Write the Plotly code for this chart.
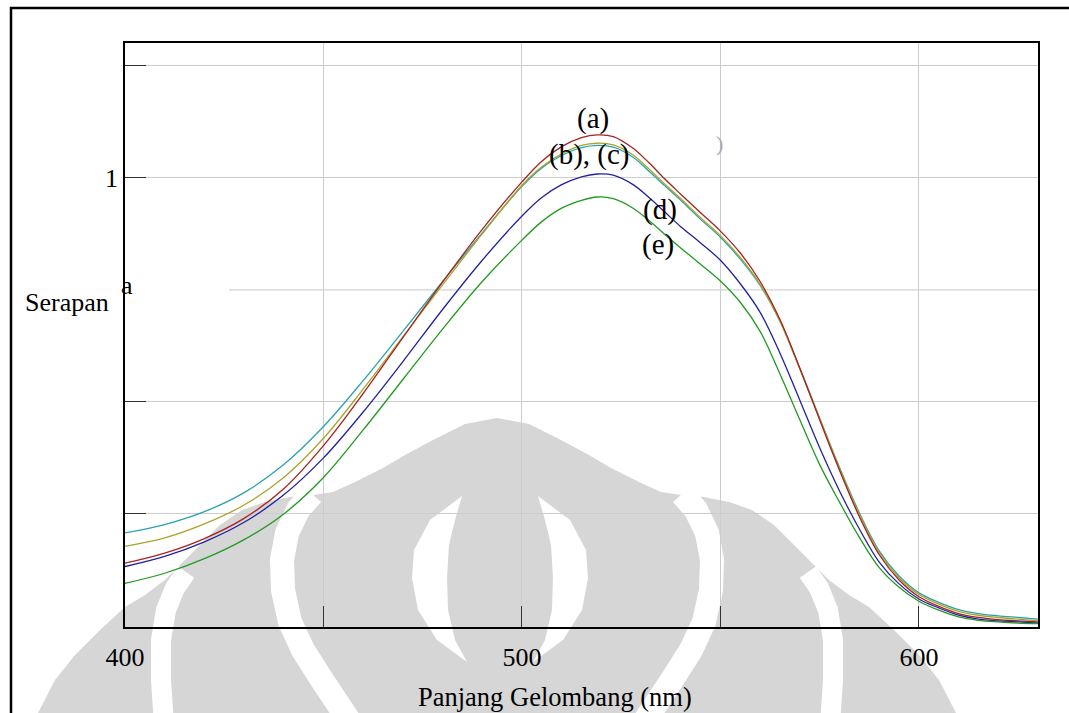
import plotly.graph_objects as go

# ---------------- data ----------------
wavelength_nm = [400, 410, 420, 430, 440, 450, 460, 470, 480, 490, 500,
                 505, 510, 515, 519, 523,
                 528, 532, 536, 540, 545, 550, 555,
                 560, 565, 570, 575, 580, 585, 590, 595, 600, 605, 610, 615, 620, 625, 630]

serapan_a = [0.312, 0.330, 0.356, 0.392, 0.445, 0.522, 0.615, 0.715, 0.814, 0.908, 0.993,
             1.030, 1.056, 1.072, 1.077, 1.074,
             1.053, 1.027, 0.998, 0.971, 0.938, 0.905, 0.866,
             0.815, 0.747, 0.660, 0.568, 0.478, 0.395, 0.327, 0.282, 0.252, 0.235, 0.222, 0.215, 0.211, 0.209, 0.207]
serapan_b = [0.342, 0.357, 0.382, 0.416, 0.465, 0.535, 0.623, 0.716, 0.809, 0.900, 0.987,
             1.020, 1.043, 1.058, 1.062, 1.059,
             1.041, 1.016, 0.989, 0.963, 0.929, 0.897, 0.858,
             0.810, 0.744, 0.659, 0.570, 0.481, 0.399, 0.331, 0.286, 0.256, 0.239, 0.226, 0.219, 0.215, 0.212, 0.209]
serapan_c = [0.366, 0.381, 0.404, 0.438, 0.488, 0.556, 0.638, 0.726, 0.815, 0.902, 0.985,
             1.018, 1.040, 1.054, 1.058, 1.055,
             1.037, 1.012, 0.986, 0.960, 0.926, 0.894, 0.855,
             0.808, 0.744, 0.660, 0.571, 0.483, 0.402, 0.334, 0.289, 0.259, 0.242, 0.229, 0.222, 0.218, 0.215, 0.212]
serapan_d = [0.306, 0.324, 0.350, 0.385, 0.434, 0.500, 0.582, 0.672, 0.765, 0.853, 0.932,
             0.965, 0.988, 1.002, 1.007, 1.005,
             0.988, 0.965, 0.939, 0.913, 0.884, 0.853, 0.811,
             0.760, 0.687, 0.603, 0.518, 0.441, 0.373, 0.314, 0.275, 0.248, 0.232, 0.219, 0.212, 0.209, 0.207, 0.205]
serapan_e = [0.276, 0.294, 0.320, 0.354, 0.400, 0.465, 0.550, 0.640, 0.730, 0.815, 0.889,
             0.922, 0.946, 0.960, 0.966, 0.963,
             0.946, 0.924, 0.899, 0.875, 0.846, 0.816, 0.778,
             0.726, 0.650, 0.568, 0.488, 0.421, 0.358, 0.304, 0.269, 0.244, 0.228, 0.216, 0.210, 0.207, 0.205, 0.204]

series = [
    ("(c)", serapan_c, "#2aa3ab"),
    ("(b)", serapan_b, "#aba42c"),
    ("(a)", serapan_a, "#a82222"),
    ("(d)", serapan_d, "#22229e"),
    ("(e)", serapan_e, "#229a22"),
]

x_tick_vals = [400, 450, 500, 550, 600]
x_tick_text = ["400", "", "500", "", "600"]
y_tick_vals = [0.4, 0.6, 1.0, 1.2]
y_tick_text = ["", "", "1", ""]

FONT = "Liberation Serif, Times New Roman, serif"
W, H = 1069, 713
ML, MR, MT, MB = 125, 31, 43, 86
PW, PH = W - ML - MR, H - MT - MB


def px(xp):
    return (xp - ML) / PW


def py(yp):
    return (H - MB - yp) / PH


def path_from(points, close=False):
    s = "M " + " L ".join(f"{px(a):.5f},{py(b):.5f}" for a, b in points)
    return s + (" Z" if close else "")


fig = go.Figure()
for name, vals, col in series:
    fig.add_trace(go.Scatter(x=wavelength_nm, y=vals, mode="lines", name=name,
                             line=dict(color=col, width=1.3, shape="spline", smoothing=1.0),
                             showlegend=False))

# ---------------- watermark (background emblem) ----------------
GRAY = "#d6d6d6"
cx2 = 994
left_half = [(497, 418), (465, 424), (433, 440), (405, 455), (383, 468), (355, 482), (333, 492),
             (313, 495), (290, 497), (265, 502), (242, 510), (220, 525), (202, 543), (183, 562),
             (165, 580), (145, 595), (125, 607), (100, 630), (75, 655), (55, 680), (38, 713), (30, 725)]
right_half = [(cx2 - a, b) for a, b in left_half]
silhouette = left_half + [(cx2 - 30, 725)] + right_half[::-1]

shapes = []
shapes.append(dict(type="path", xref="paper", yref="paper", layer="below",
                   path=path_from(silhouette, close=True), fillcolor=GRAY, line=dict(width=0)))

w1 = [(186, 572), (175, 588), (166, 610), (161, 640), (161, 680), (164, 725)]
w2 = [(312, 494), (298, 510), (287, 533), (282, 560), (283, 590), (290, 622), (303, 650), (322, 680), (352, 725)]
for pts, wd in [(w1, 20), (w2, 24)]:
    for mirror in (False, True):
        p = [(cx2 - a, b) for a, b in pts] if mirror else pts
        shapes.append(dict(type="path", xref="paper", yref="paper", layer="below",
                           path=path_from(p), line=dict(color="white", width=wd)))

crescent = [(462, 496), (430, 520), (414, 550), (412, 578), (418, 610), (437, 640), (467, 662),
            (455, 640), (448, 610), (447, 578), (449, 545), (455, 520)]
for mirror in (False, True):
    p = [(1000 - a, b) for a, b in crescent] if mirror else crescent
    shapes.append(dict(type="path", xref="paper", yref="paper", layer="below",
                       path=path_from(p, close=True), fillcolor="white", line=dict(width=0)))

# partial gridline at 0.8
shapes.append(dict(type="line", xref="x", yref="y", layer="below",
                   x0=426.2, x1=630, y0=0.8, y1=0.8, line=dict(color="#c8c8c8", width=1)))

# outer frame
shapes.append(dict(type="path", xref="paper", yref="paper", layer="above",
                   path=path_from([(11, 725), (11, 8), (1075, 8)]),
                   line=dict(color="black", width=2.5)))

fig.update_layout(shapes=shapes)

# ---------------- annotations ----------------
ann = []


def add_text(t, xp, yp, size=26, color="black"):
    ann.append(dict(text=t, x=px(xp), y=py(yp), xref="paper", yref="paper",
                    showarrow=False, xanchor="center", yanchor="middle",
                    font=dict(family=FONT, size=size, color=color)))


add_text("(a)", 593, 118, size=29)
add_text("(b), (c)", 589, 154, size=29)
add_text("(d)", 660, 209, size=29)
add_text("(e)", 658, 244, size=29)
add_text(")", 719, 143, size=22, color="#aaaaaa")
add_text("Panjang Gelombang (nm)", 555, 697, size=26.5)
add_text("Serapan", 67, 302)
add_text("a", 127, 285)
fig.update_layout(annotations=ann)

fig.update_xaxes(range=[400, 630], tickvals=x_tick_vals, ticktext=x_tick_text,
                 showgrid=True, gridcolor="#cccccc", gridwidth=1, zeroline=False,
                 showline=True, linecolor="black", linewidth=1.5, mirror=True,
                 ticks="inside", ticklen=21, tickcolor="#333333", tickwidth=1,
                 ticklabelstandoff=6,
                 tickfont=dict(family=FONT, size=26, color="black"))
fig.update_yaxes(range=[0.198, 1.241], tickvals=y_tick_vals, ticktext=y_tick_text,
                 showgrid=True, gridcolor="#cccccc", gridwidth=1, zeroline=False,
                 showline=True, linecolor="black", linewidth=1.5, mirror=True,
                 ticks="inside", ticklen=21, tickcolor="#333333", tickwidth=1,
                 ticklabelstandoff=0,
                 tickfont=dict(family=FONT, size=26, color="black"))

fig.update_layout(width=W, height=H, margin=dict(l=ML, r=MR, t=MT, b=MB, autoexpand=False),
                  paper_bgcolor="white", plot_bgcolor="rgba(0,0,0,0)",
                  font=dict(family=FONT, color="black"))

fig.write_html("out.html", config={"displayModeBar": False},
               post_script="document.body.style.margin='0px';document.body.style.overflow='hidden';")
